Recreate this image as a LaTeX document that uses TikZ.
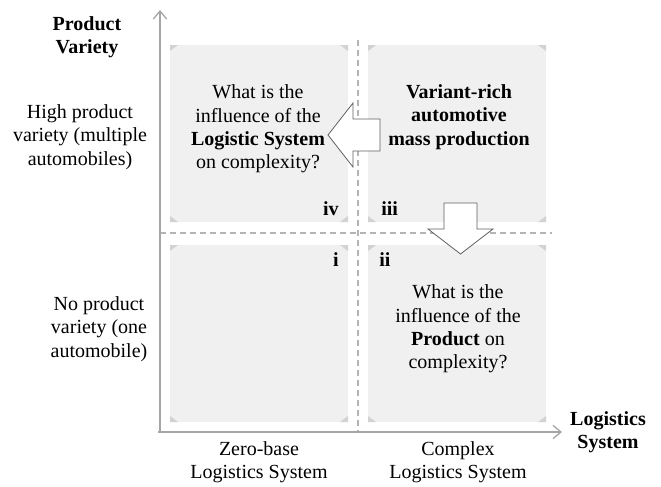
\documentclass[tikz,border=0pt]{standalone}
\usepackage{fontspec}
\setmainfont{Liberation Serif}
\usepackage{tikz}
\usetikzlibrary{arrows.meta,calc}

\definecolor{boxgray}{HTML}{F0F0F0}
\definecolor{cornergray}{HTML}{D2D2D2}
\definecolor{axisgray}{HTML}{A6A6A6}
\definecolor{dashgray}{HTML}{B4B4B4}
\definecolor{edgegray}{HTML}{606060}

\begin{document}
\begin{tikzpicture}[
  x=0.75pt, y=-0.75pt,
  font=\fontsize{15}{17.6}\selectfont,
  axisline/.style={draw=axisgray, line width=1pt, -{Straight Barb[length=6pt,width=10pt]}},
  sepline/.style={draw=dashgray, line width=1pt, dash pattern=on 4.5pt off 3pt},
  quadbox/.style={fill=boxgray},
  quadcorner/.style={fill=cornergray},
  blockarrow/.style={draw=edgegray, fill=white, line width=0.6pt, line join=miter},
  txt/.style={align=center, inner sep=0pt},
  romnum/.style={inner sep=0pt, font=\fontsize{15}{17.6}\selectfont\bfseries}
]
  \useasboundingbox (0,0) rectangle (661,486);

  % quadrants
  \foreach \xa/\ya/\xb/\yb in {170/45/348/222, 368/45/546/222, 170/245/348/422, 368/245/546/422} {
    \fill[quadbox] (\xa,\ya) rectangle (\xb,\yb);
    \fill[quadcorner] (\xa,\ya) -- ++(8,0) -- ++(-8,6) -- cycle;
    \fill[quadcorner] (\xb,\ya) -- ++(-8,0) -- ++(8,6) -- cycle;
    \fill[quadcorner] (\xa,\yb) -- ++(8,0) -- ++(-8,-6) -- cycle;
    \fill[quadcorner] (\xb,\yb) -- ++(-8,0) -- ++(8,-6) -- cycle;
  }

  % axes and separators
  \coordinate (origin) at (160,432);
  \coordinate (ytop) at (160,10);
  \coordinate (xend) at (562,432);
  \coordinate (vsep1) at (358,40);
  \coordinate (vsep2) at (358,432);
  \coordinate (hsep1) at (160,233);
  \coordinate (hsep2) at (552,233);
  \draw[sepline] (vsep1) -- (vsep2);
  \draw[sepline] (hsep1) -- (hsep2);
  \draw[axisline] ($(origin)+(0,1)$) -- (ytop);
  \draw[axisline] ($(origin)+(-2,0)$) -- (xend);

  % block arrows
  \draw[blockarrow] (380,119) -- (353,119) -- (353,103) -- (328,135) -- (353,167)
    -- (353,151) -- (380,151) -- cycle;
  \draw[blockarrow] (444,203) -- (477,203) -- (477,229) -- (493,229) -- (460.5,254)
    -- (428,229) -- (444,229) -- cycle;

  % axis titles
  \node[txt, font=\fontsize{15}{17.6}\selectfont\bfseries] (prodvar) at (87,37) {Product\\Variety};
  \node[txt, font=\fontsize{15}{17.6}\selectfont\bfseries] (logsys) at (608,432) {Logistics\\System};
  \node[txt] (highvar) at (80,137) {High product\\variety (multiple\\automobiles)};
  \node[txt] (novar) at (99,329) {No product\\variety (one\\automobile)};
  \node[txt] (zerolog) at (259,462) {Zero-base\\Logistics System};
  \node[txt] (complog) at (458,462) {Complex\\Logistics System};

  % quadrant texts
  \node[txt] (q4text) at (258,129) {What is the\\influence of the\\\textbf{Logistic System}\\on complexity?};
  \node[txt, font=\fontsize{15}{17.6}\selectfont\bfseries] (q3text) at (459,117) {Variant-rich\\automotive\\mass production};
  \node[txt] (q2text) at (458,329) {What is the\\influence of the\\\textbf{Product} on\\complexity?};

  % quadrant numbers
  \node[romnum, anchor=east] (numiv) at (339,209) {iv};
  \node[romnum, anchor=west] (numiii) at (381,209) {iii};
  \node[romnum, anchor=east] (numi) at (339,260) {i};
  \node[romnum, anchor=west] (numii) at (379,260) {ii};
\end{tikzpicture}
\end{document}
